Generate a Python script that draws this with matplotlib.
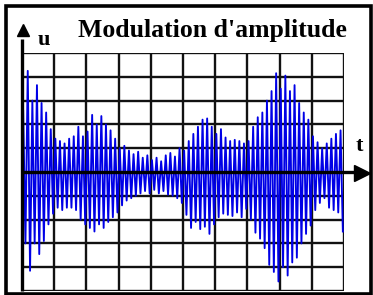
import numpy as np
import matplotlib
matplotlib.use("Agg")
import matplotlib.pyplot as plt
from matplotlib.patches import Rectangle

title = "Modulation d'amplitude"
x_label = "t"
y_label = "u"

# upper (positive) peaks of the sampled AM signal, left to right
upper_peaks = [2.6, 4.25, 3.0, 3.65, 2.9, 2.5, 1.8, 1.4, 1.3, 1.2,
               1.4, 1.5, 1.9, 1.5, 1.7, 2.4, 2.0, 2.35, 2.0, 1.75,
               1.4, 1.0, 1.1, 0.9, 0.75, 0.85, 0.6, 0.7, 0.5, 0.6,
               0.45, 0.7, 0.8, 0.65, 1.0, 0.9, 1.3, 1.6, 1.9, 2.2,
               2.25, 1.9, 1.6, 1.8, 1.45, 1.3, 1.35, 1.3, 1.2, 1.3,
               1.9, 2.3, 2.5, 3.0, 3.4, 4.15, 3.5, 4.05, 3.4, 3.65,
               2.9, 2.5, 2.2, 1.5, 1.25, 1.0, 1.2, 1.4, 1.6, 1.75]
# lower (negative) troughs, left to right
lower_peaks = [-3.0, -4.15, -3.0, -3.45, -2.9, -2.2, -1.75, -1.5, -1.6, -1.5,
               -1.5, -1.6, -2.0, -2.2, -2.35, -2.5, -2.2, -2.35, -2.1, -1.9,
               -1.7, -1.4, -1.2, -1.1, -1.0, -0.9, -0.8, -0.9, -0.75, -0.9,
               -0.8, -0.95, -1.0, -1.1, -1.3, -1.8, -2.35, -2.1, -2.4, -2.3,
               -2.6, -2.2, -1.9, -1.75, -1.8, -1.85, -1.7, -1.9, -1.55, -2.0,
               -2.55, -2.8, -3.2, -3.9, -4.2, -4.6, -4.0, -4.35, -3.8, -3.6,
               -3.0, -2.6, -2.25, -1.6, -1.3, -1.1, -1.5, -1.6, -1.7, -2.5]

n = len(upper_peaks)
t_span = 10.0
period = t_span / n
t_up = (np.arange(n) + 0.25) * period
t_lo = (np.arange(n) + 0.75) * period
t = np.concatenate([[0.0], np.column_stack([t_up, t_lo]).ravel()])
u = np.concatenate([[0.0], np.column_stack([upper_peaks, lower_peaks]).ravel()])

W, H = 373, 295
fig = plt.figure(figsize=(W / 100, H / 100), dpi=100)
fig.patch.set_facecolor("white")

x0, x1 = 22, 344
y0, y1 = 53, 291
ax = fig.add_axes([x0 / W, 1 - y1 / H, (x1 - x0) / W, (y1 - y0) / H])
ax.set_xlim(0, 10)
ax.set_ylim(-5, 5)
for s in ax.spines.values():
    s.set_visible(False)
ax.set_xticks([])
ax.set_yticks([])

for k in range(1, 11):
    ax.axvline(k, color="#111111", lw=1.7, zorder=1)
for k in range(-5, 6):
    if k != 0:
        ax.axhline(k, color="#111111", lw=1.7, zorder=1)

ax.plot(t, u, color="#0000e6", lw=1.35, zorder=2)

# axes with arrows
ax.plot([0, 10.45], [0, 0], color="black", lw=2.4, zorder=3, clip_on=False, solid_capstyle="butt")
ax.plot([0, 0], [-5, 5.6], color="black", lw=2.4, zorder=3, clip_on=False, solid_capstyle="butt")
ax.plot([10.55], [-0.05], marker=">", ms=11, color="black", mec="black", clip_on=False, zorder=4)
ax.plot([0.03], [5.95], marker="^", ms=9, color="black", mec="black", clip_on=False, zorder=4)

fig.text(44 / W, 1 - 40 / H, y_label, fontsize=16, fontweight="bold",
         family="Liberation Serif", ha="center", va="center")
fig.text(359 / W, 1 - 146 / H, x_label, fontsize=16, fontweight="bold",
         family="Liberation Serif", ha="center", va="center")
fig.text(212 / W, 1 - 30 / H, title, fontsize=18.5, fontweight="bold",
         family="Liberation Serif", ha="center", va="center")

fig.patches.append(Rectangle((5.5 / W, 1 - 293.5 / H), 365.5 / W, 287.5 / H,
                             transform=fig.transFigure, fill=False,
                             ec="black", lw=2.6, zorder=10))

fig.savefig("out.png", dpi=100)
